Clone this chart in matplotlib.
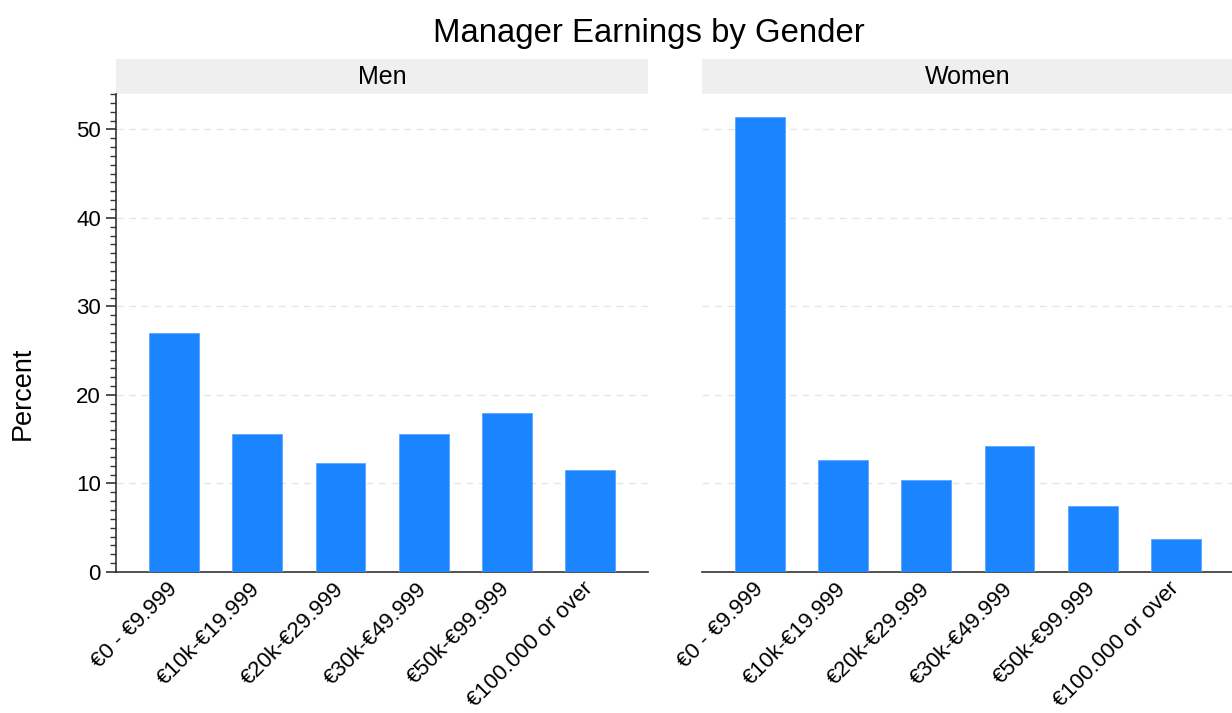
import matplotlib.pyplot as plt
from matplotlib.ticker import MultipleLocator

plt.rcParams['font.family'] = ['Liberation Sans', 'DejaVu Sans']

categorias = ["€0 - €9.999", "€10k-€19.999", "€20k-€29.999", "€30k-€49.999", "€50k-€99.999", "€100.000 or over"]
homens = [27.0, 15.6, 12.3, 15.6, 18.0, 11.5]
mulheres = [51.4, 12.7, 10.4, 14.2, 7.5, 3.7]
paineis = ["Men", "Women"]

cor_barra = "#1a85ff"
cor_eixo = "#333333"
cor_faixa = "#efefef"

fig = plt.figure(figsize=(12.32, 7.13), dpi=100)
ax1 = fig.add_axes([0.0942, 0.1978, 0.4318, 0.6704])
ax2 = fig.add_axes([0.5698, 0.1978, 0.4318, 0.6704])

for ax, valores, nome in zip([ax1, ax2], [homens, mulheres], paineis):
    x = range(len(categorias))
    ax.bar(x, valores, 0.6, color=cor_barra, edgecolor="#5aa5ff", linewidth=0.6, zorder=3)
    ax.set_xlim(-0.7, 5.7)
    ax.set_ylim(0, 54)
    ax.set_xticks(list(x))
    ax.set_xticklabels(categorias, rotation=45, ha="right", va="center", rotation_mode="anchor", fontsize=16)
    ax.tick_params(axis="x", length=0, pad=10)
    ax.set_yticks([0, 10, 20, 30, 40, 50])
    for g in [10, 20, 30, 40, 50]:
        ax.axhline(g, color="#e6e6e6", linestyle=(0, (5, 4)), linewidth=1, zorder=1)
    for lado in ["top", "right"]:
        ax.spines[lado].set_visible(False)
    ax.spines["bottom"].set_color(cor_eixo)
    ax.spines["bottom"].set_linewidth(1.2)
    # faixa cinza com o nome do painel
    faixa = plt.Rectangle((0, 1.0), 1.0, 35 / 478, transform=ax.transAxes, facecolor=cor_faixa,
                          edgecolor="none", clip_on=False, zorder=0)
    ax.add_patch(faixa)
    ax.text(0.5, 1.0362, nome, transform=ax.transAxes, ha="center", va="center", fontsize=18)

ax1.spines["left"].set_color(cor_eixo)
ax1.spines["left"].set_linewidth(1.2)
ax1.yaxis.set_minor_locator(MultipleLocator(1))
ax1.tick_params(axis="y", which="major", length=7, width=1.2, color=cor_eixo, labelsize=16, pad=4)
ax1.tick_params(axis="y", which="minor", length=4, width=1, color=cor_eixo)

ax2.spines["left"].set_visible(False)
ax2.tick_params(axis="y", which="both", left=False, labelleft=False)

fig.text(0.0184, 0.4488, "Percent", rotation=90, ha="center", va="center", fontsize=19.5)
fig.text(0.527, 1 - 41.7 / 713, "Manager Earnings by Gender", ha="center", va="baseline", fontsize=23.7)

plt.savefig("out.png", dpi=100)
